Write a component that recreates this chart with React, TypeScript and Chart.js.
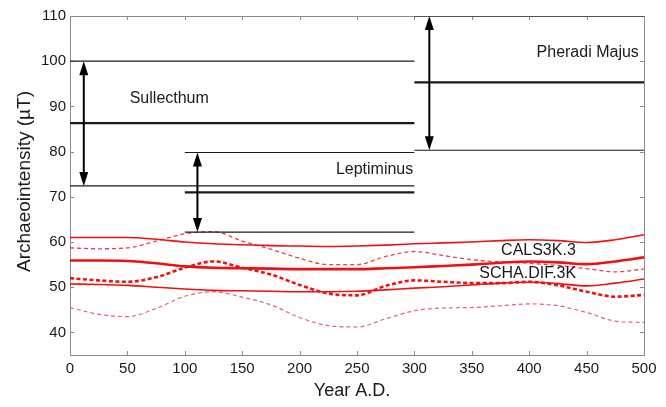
import { useEffect, useRef } from "react";
import { Chart, registerables } from "chart.js";

Chart.register(...registerables);

// Model curves, sampled every 25 years (µT)
const years = [0, 25, 50, 75, 100, 125, 150, 175, 200, 225, 250, 275, 300, 325, 350, 375, 400, 425, 450, 475, 500];
const calsUpper = [61.0, 61.0, 61.0, 60.6, 60.0, 59.6, 59.4, 59.2, 59.1, 59.0, 59.1, 59.3, 59.6, 59.8, 60.0, 60.3, 60.5, 60.3, 59.9, 60.5, 61.6];
const calsMean = [55.9, 55.9, 55.8, 55.3, 54.6, 54.3, 54.2, 54.1, 54.0, 54.0, 54.0, 54.2, 54.4, 54.7, 55.0, 55.4, 55.7, 55.5, 55.1, 55.7, 56.6];
const calsLower = [50.7, 50.6, 50.4, 50.0, 49.6, 49.3, 49.2, 49.1, 49.0, 49.0, 49.1, 49.4, 49.8, 50.1, 50.5, 50.9, 51.1, 50.8, 50.3, 50.9, 51.8];
const schaUpper = [58.7, 58.5, 58.7, 60.2, 61.8, 62.3, 60.2, 58.4, 56.4, 55.0, 55.0, 56.8, 57.9, 57.0, 56.1, 55.6, 55.3, 54.8, 54.1, 53.4, 54.0];
const schaMean = [52.0, 51.5, 51.2, 52.2, 54.3, 55.7, 54.3, 52.8, 50.5, 48.6, 48.2, 50.3, 51.5, 51.2, 50.9, 50.9, 51.2, 50.4, 49.0, 47.9, 48.3];
const schaLower = [45.5, 44.0, 43.5, 45.3, 48.0, 49.0, 47.8, 46.1, 43.3, 41.5, 41.2, 43.0, 44.8, 45.4, 45.5, 45.9, 46.3, 45.9, 44.4, 42.5, 42.2];

// Archaeological sites: time span and intensity with its range
const sites = ["Sullecthum", "Leptiminus", "Pheradi Majus"];
const siteStart = [0, 100, 300];
const siteEnd = [300, 300, 500];
const siteMean = [86.3, 71.0, 95.3];
const siteUpper = [100.0, 79.8, 110.0];
const siteLower = [72.4, 62.2, 80.3];
const arrowYear = [12, 111, 313];

// Axis ticks
const xTicks = [0, 50, 100, 150, 200, 250, 300, 350, 400, 450, 500];
const yTicks = [40, 50, 60, 70, 80, 90, 100, 110];

const FONT = "'Liberation Sans', Arial, Helvetica, sans-serif";

// Text annotations placed in data coordinates
const annotations = [
  { text: "Sullecthum", x: 52, y: 91.7, align: "left" },
  { text: "Leptiminus", x: 299, y: 76.1, align: "right" },
  { text: "Pheradi Majus", x: 495.5, y: 101.9, align: "right" },
  { text: "CALS3K.3", x: 375.5, y: 58.0, align: "left" },
  { text: "SCHA.DIF.3K", x: 356.5, y: 52.9, align: "left" },
];

const RED = "rgb(240, 16, 16)";
const PINK = "rgb(236, 60, 80)";
const PALE = "rgb(232, 95, 115)";

function curve(values: number[], color: string, width: number, dash: number[]) {
  return {
    data: years.map((x, i) => ({ x, y: values[i] })),
    borderColor: color,
    borderWidth: width,
    borderDash: dash,
    pointRadius: 0,
    fill: false,
    cubicInterpolationMode: "monotone" as const,
  };
}

function segment(x0: number, x1: number, y: number, width: number) {
  return {
    data: [
      { x: x0, y },
      { x: x1, y },
    ],
    borderColor: "#1a1a1a",
    borderWidth: width,
    pointRadius: 0,
    fill: false,
  };
}

const framePlugin = {
  id: "frame",
  beforeDatasetsDraw(chart: any) {
    const { ctx, chartArea: a, scales } = chart;
    const xs = scales.x;
    const ys = scales.y;
    ctx.save();
    ctx.strokeStyle = "#8a8a8a";
    ctx.lineWidth = 1;
    ctx.strokeRect(Math.round(a.left) + 0.5, Math.round(a.top) + 0.5, Math.round(a.right - a.left), Math.round(a.bottom - a.top));
    ctx.beginPath();
    const tl = 4;
    xTicks.forEach((v) => {
      const px = Math.round(xs.getPixelForValue(v)) + 0.5;
      ctx.moveTo(px, a.bottom);
      ctx.lineTo(px, a.bottom - tl);
      ctx.moveTo(px, a.top);
      ctx.lineTo(px, a.top + tl);
    });
    yTicks.forEach((v) => {
      const py = Math.round(ys.getPixelForValue(v)) + 0.5;
      ctx.moveTo(a.left, py);
      ctx.lineTo(a.left + tl, py);
      ctx.moveTo(a.right, py);
      ctx.lineTo(a.right - tl, py);
    });
    ctx.stroke();
    ctx.restore();
  },
  afterDatasetsDraw(chart: any) {
    const { ctx, chartArea: a, scales } = chart;
    const xs = scales.x;
    const ys = scales.y;
    ctx.save();
    // double-headed arrows spanning each site's range
    ctx.fillStyle = "#000";
    ctx.strokeStyle = "#000";
    arrowYear.forEach((yr, i) => {
      const px = xs.getPixelForValue(yr);
      const top = ys.getPixelForValue(siteUpper[i]);
      const bot = ys.getPixelForValue(siteLower[i]);
      const head = 14;
      const half = 4.5;
      ctx.lineWidth = 2;
      ctx.beginPath();
      ctx.moveTo(px, top + head - 1);
      ctx.lineTo(px, bot - head + 1);
      ctx.stroke();
      ctx.beginPath();
      ctx.moveTo(px, top);
      ctx.lineTo(px - half, top + head);
      ctx.lineTo(px + half, top + head);
      ctx.closePath();
      ctx.fill();
      ctx.beginPath();
      ctx.moveTo(px, bot);
      ctx.lineTo(px - half, bot - head);
      ctx.lineTo(px + half, bot - head);
      ctx.closePath();
      ctx.fill();
    });
    // annotations
    ctx.fillStyle = "#1a1a1a";
    ctx.font = `16px ${FONT}`;
    ctx.textBaseline = "middle";
    annotations.forEach((t) => {
      ctx.textAlign = t.align as CanvasTextAlign;
      ctx.fillText(t.text, xs.getPixelForValue(t.x), ys.getPixelForValue(t.y));
    });
    // axis titles
    ctx.fillStyle = "#1a1a1a";
    ctx.font = `18px ${FONT}`;
    ctx.textAlign = "center";
    ctx.fillText("Year A.D.", (a.left + a.right) / 2 - 5, 391);
    ctx.font = `19px ${FONT}`;
    ctx.translate(25, (a.top + a.bottom) / 2 - 4);
    ctx.rotate(-Math.PI / 2);
    ctx.fillText("Archaeointensity (\u00b5T)", 0, 0);
    ctx.restore();
  },
};

export default function App() {
  const ref = useRef<HTMLCanvasElement>(null);

  useEffect(() => {
    const datasets: any[] = [];
    sites.forEach((_, i) => {
      datasets.push(segment(siteStart[i], siteEnd[i], siteUpper[i], 1.2));
      datasets.push(segment(siteStart[i], siteEnd[i], siteMean[i], 2.2));
      datasets.push(segment(siteStart[i], siteEnd[i], siteLower[i], 1.2));
    });
    datasets.push(curve(calsUpper, RED, 1.6, []));
    datasets.push(curve(calsMean, RED, 2.6, []));
    datasets.push(curve(calsLower, RED, 1.6, []));
    datasets.push(curve(schaUpper, PINK, 1.3, [4, 3]));
    datasets.push(curve(schaMean, RED, 2.6, [4, 2.5]));
    datasets.push(curve(schaLower, PALE, 1.2, [4, 3]));

    const chart = new Chart(ref.current!, {
      type: "line",
      data: { datasets },
      options: {
        animation: false,
        responsive: true,
        maintainAspectRatio: false,
        layout: { padding: { top: 16, right: 22, left: 0, bottom: 0 } },
        plugins: { legend: { display: false }, tooltip: { enabled: false } },
        scales: {
          x: {
            type: "linear",
            min: 0,
            max: 500,
            grid: { display: false, drawTicks: false },
            border: { display: false },
            afterBuildTicks: (s: any) => {
              s.ticks = xTicks.map((value) => ({ value }));
            },
            afterFit: (s: any) => {
              s.height = 52;
            },
            ticks: {
              padding: 5,
              color: "#1a1a1a",
              font: { size: 15, family: FONT },
              maxRotation: 0,
            },
          },
          y: {
            type: "linear",
            min: 35,
            max: 110,
            grid: { display: false, drawTicks: false },
            border: { display: false },
            afterBuildTicks: (s: any) => {
              s.ticks = yTicks.map((value) => ({ value }));
            },
            afterFit: (s: any) => {
              s.width = 70;
            },
            ticks: {
              padding: 4,
              color: "#1a1a1a",
              font: { size: 15, family: FONT },
            },
          },
        },
      },
      plugins: [framePlugin],
    });
    return () => chart.destroy();
  }, []);

  return (
    <div style={{ position: "fixed", left: 0, top: 0, width: 666, height: 407, background: "#fff" }}>
      <canvas ref={ref} />
    </div>
  );
}
